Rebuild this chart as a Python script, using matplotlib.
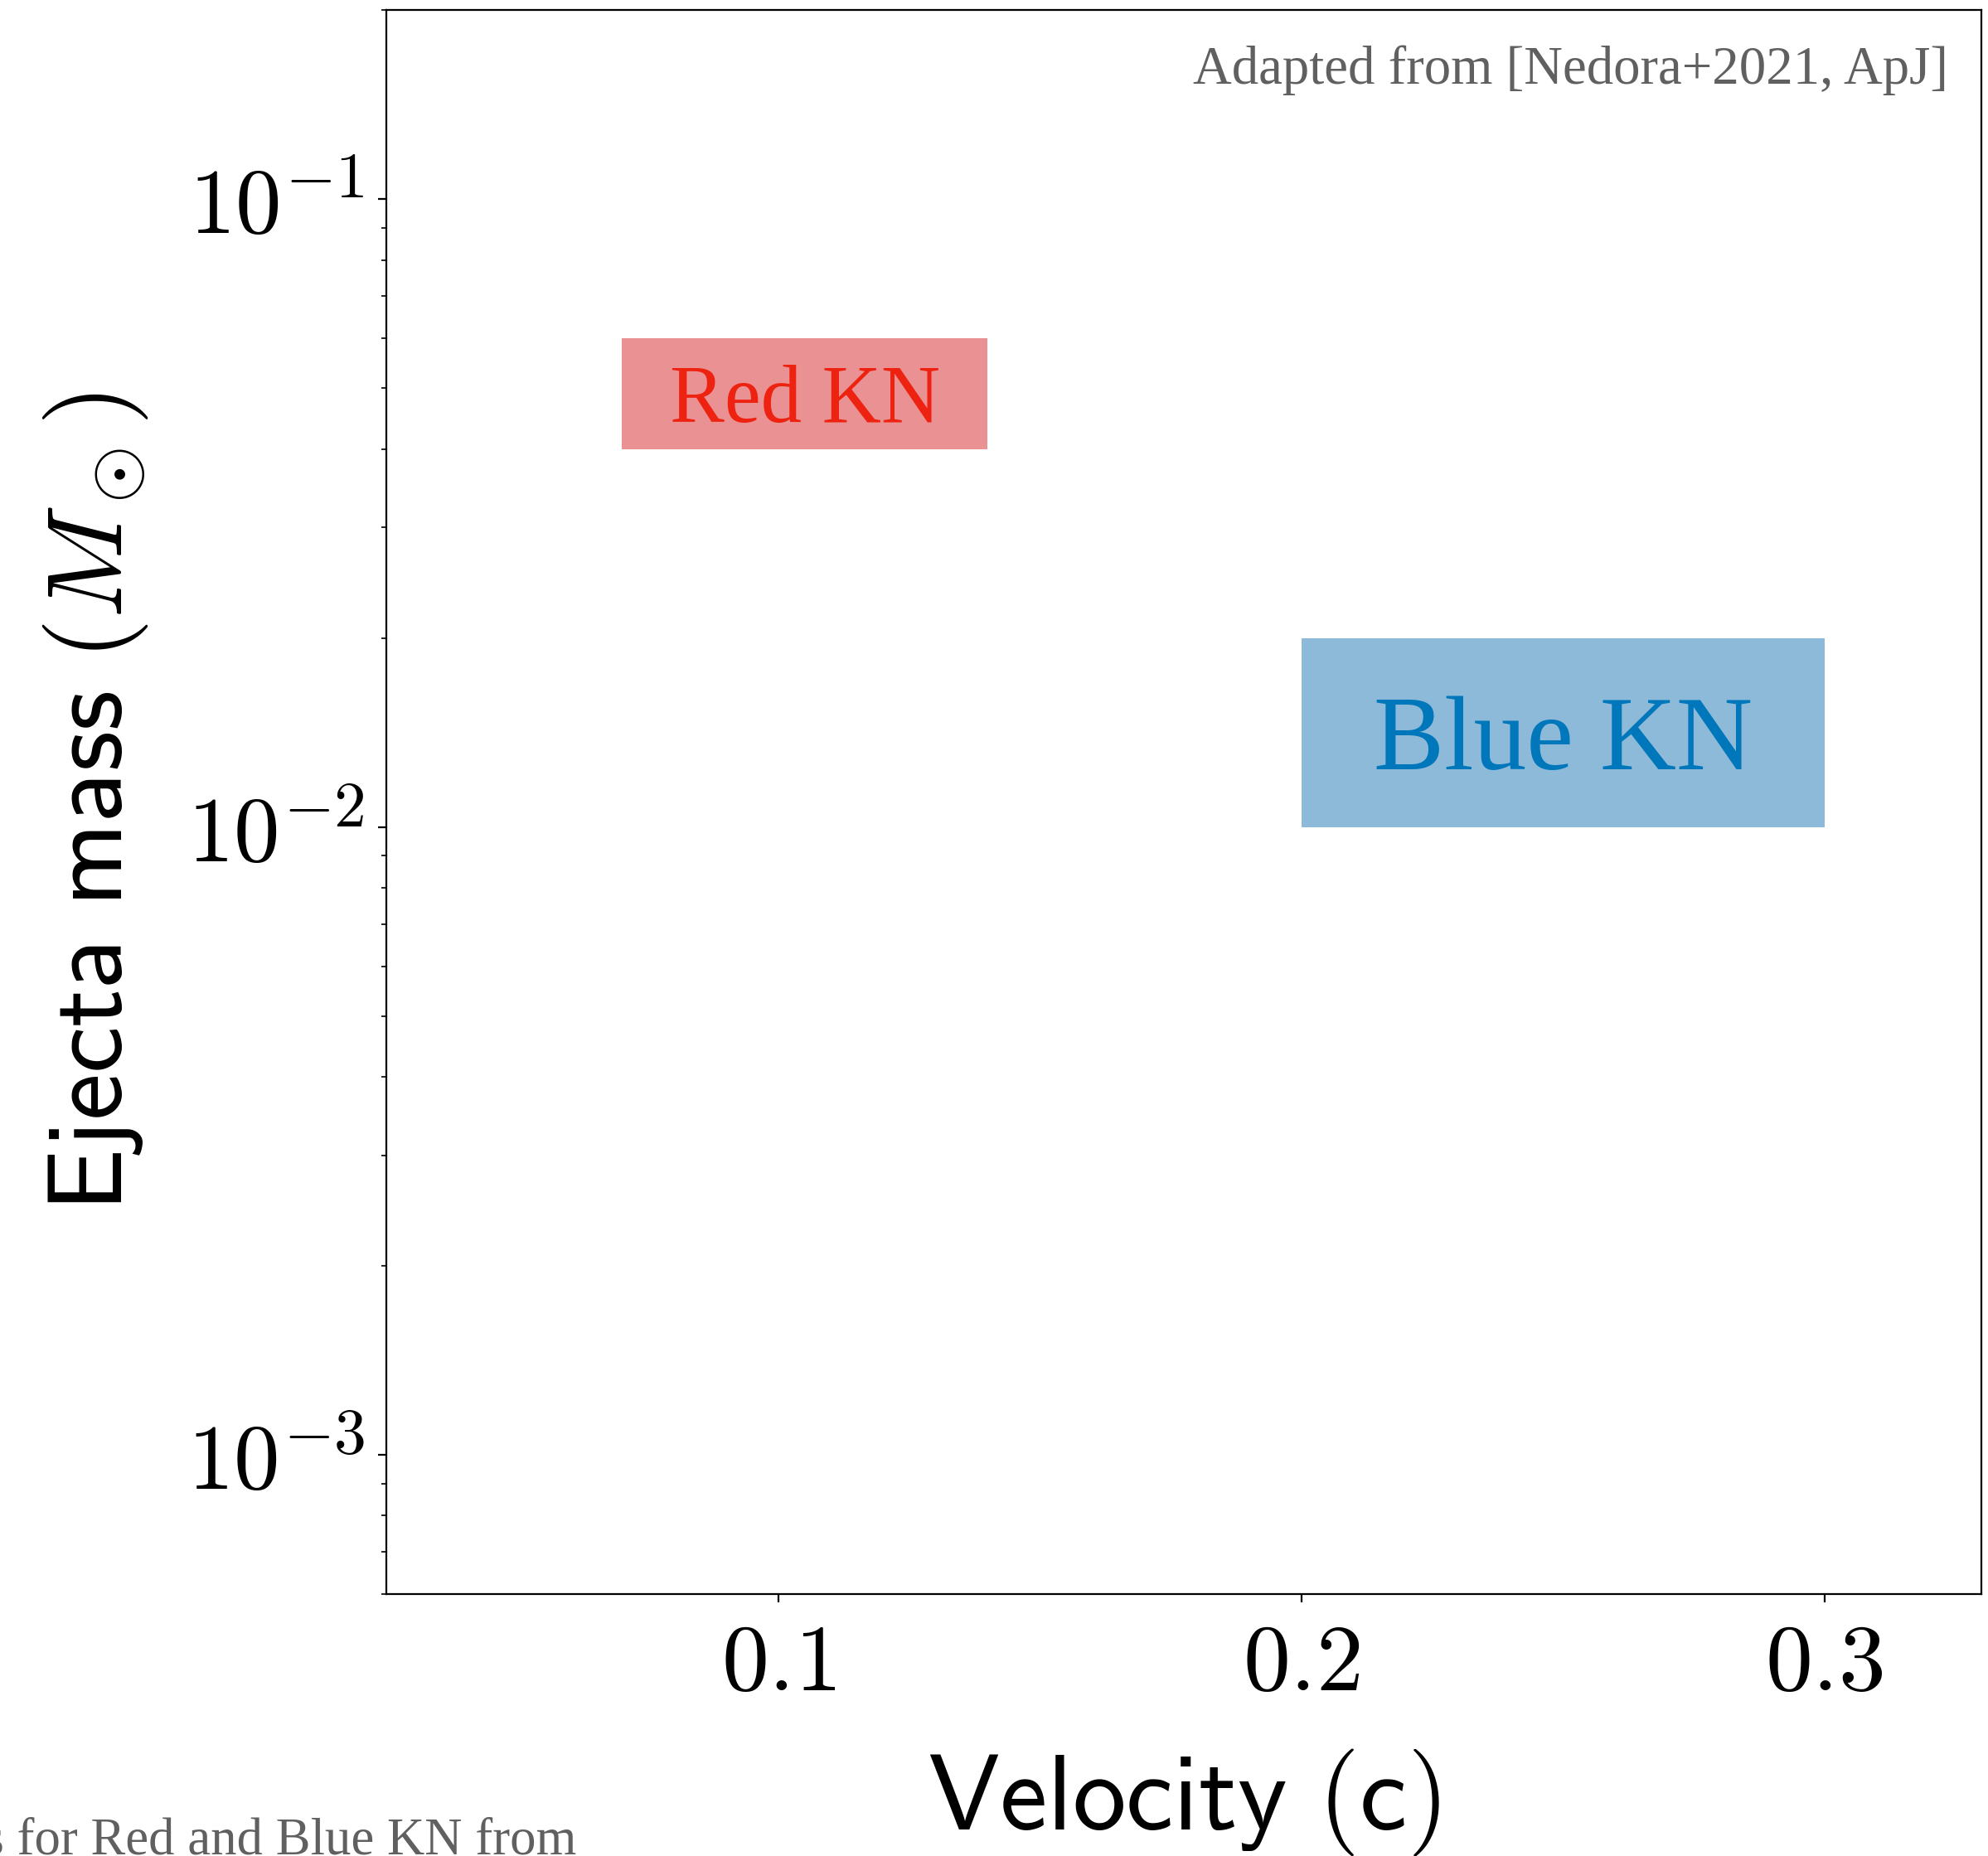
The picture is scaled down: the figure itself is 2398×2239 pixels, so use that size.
import math
import matplotlib
matplotlib.use("Agg")
import matplotlib.pyplot as plt
from matplotlib.ticker import FuncFormatter, LogLocator

plt.rcParams['mathtext.fontset'] = 'cm'

# kilonova components: velocity range (c) and ejecta mass range (Msun)
components = ["Red KN", "Blue KN"]
vel_lo = [0.07, 0.20]
vel_hi = [0.14, 0.30]
mass_lo = [0.04, 0.01]
mass_hi = [0.06, 0.02]

x_ticks = [0.1, 0.2, 0.3]
y_ticks = [1e-3, 1e-2, 1e-1]

fill_colors = ['C3', 'C0']
text_colors = ['#ee2211', '#0077bb']
text_sizes = [35.5, 46]

fig = plt.figure(figsize=(11.99, 11.195), dpi=200)
ax = fig.add_axes([0.1943, 0.1411, 0.8023, 0.8535])

for i, name in enumerate(components):
    ax.fill_between([vel_lo[i], vel_hi[i]], mass_lo[i], mass_hi[i],
                    color=fill_colors[i], alpha=0.5, linewidth=0)
    xc = 0.5 * (vel_lo[i] + vel_hi[i])
    yc = (mass_lo[i] * mass_hi[i]) ** 0.5
    ax.text(xc, yc, name, color=text_colors[i], fontsize=text_sizes[i],
            family='Liberation Serif', ha='center', va='center_baseline')

ax.set_yscale('log')
ax.set_xlim(0.025, 0.33)
ax.set_ylim(6e-4, 0.2)
ax.set_xticks(x_ticks)
ax.set_yticks(y_ticks)
ax.yaxis.set_minor_locator(LogLocator(base=10, subs=range(2, 10)))
ax.xaxis.set_major_formatter(FuncFormatter(lambda v, p: r'$%.1f$' % v))
ax.yaxis.set_major_formatter(FuncFormatter(lambda v, p: r'$10^{%d}$' % round(math.log10(v))))
ax.yaxis.set_minor_formatter(FuncFormatter(lambda v, p: ''))
ax.tick_params(axis='x', labelsize=41, pad=7)
ax.tick_params(axis='y', labelsize=40, pad=6)

ax.set_xlabel(r'$\mathsf{Velocity\ (c)}$', fontsize=46.5, labelpad=16)
ax.set_ylabel(r'$\mathsf{Ejecta\ mass}\ (M_\odot)$', fontsize=46, labelpad=16)

ax.text(0.979, 0.978, 'Adapted from [Nedora+2021, ApJ]', transform=ax.transAxes,
        ha='right', va='top', fontsize=23.3, color='#606060', family='Liberation Serif')

fig.text(0.290, 0.001, 'Parameters for Red and Blue KN from', ha='right', va='baseline',
         fontsize=22.6, color='#606060', family='Liberation Serif')

fig.savefig('out.png', dpi=200)
